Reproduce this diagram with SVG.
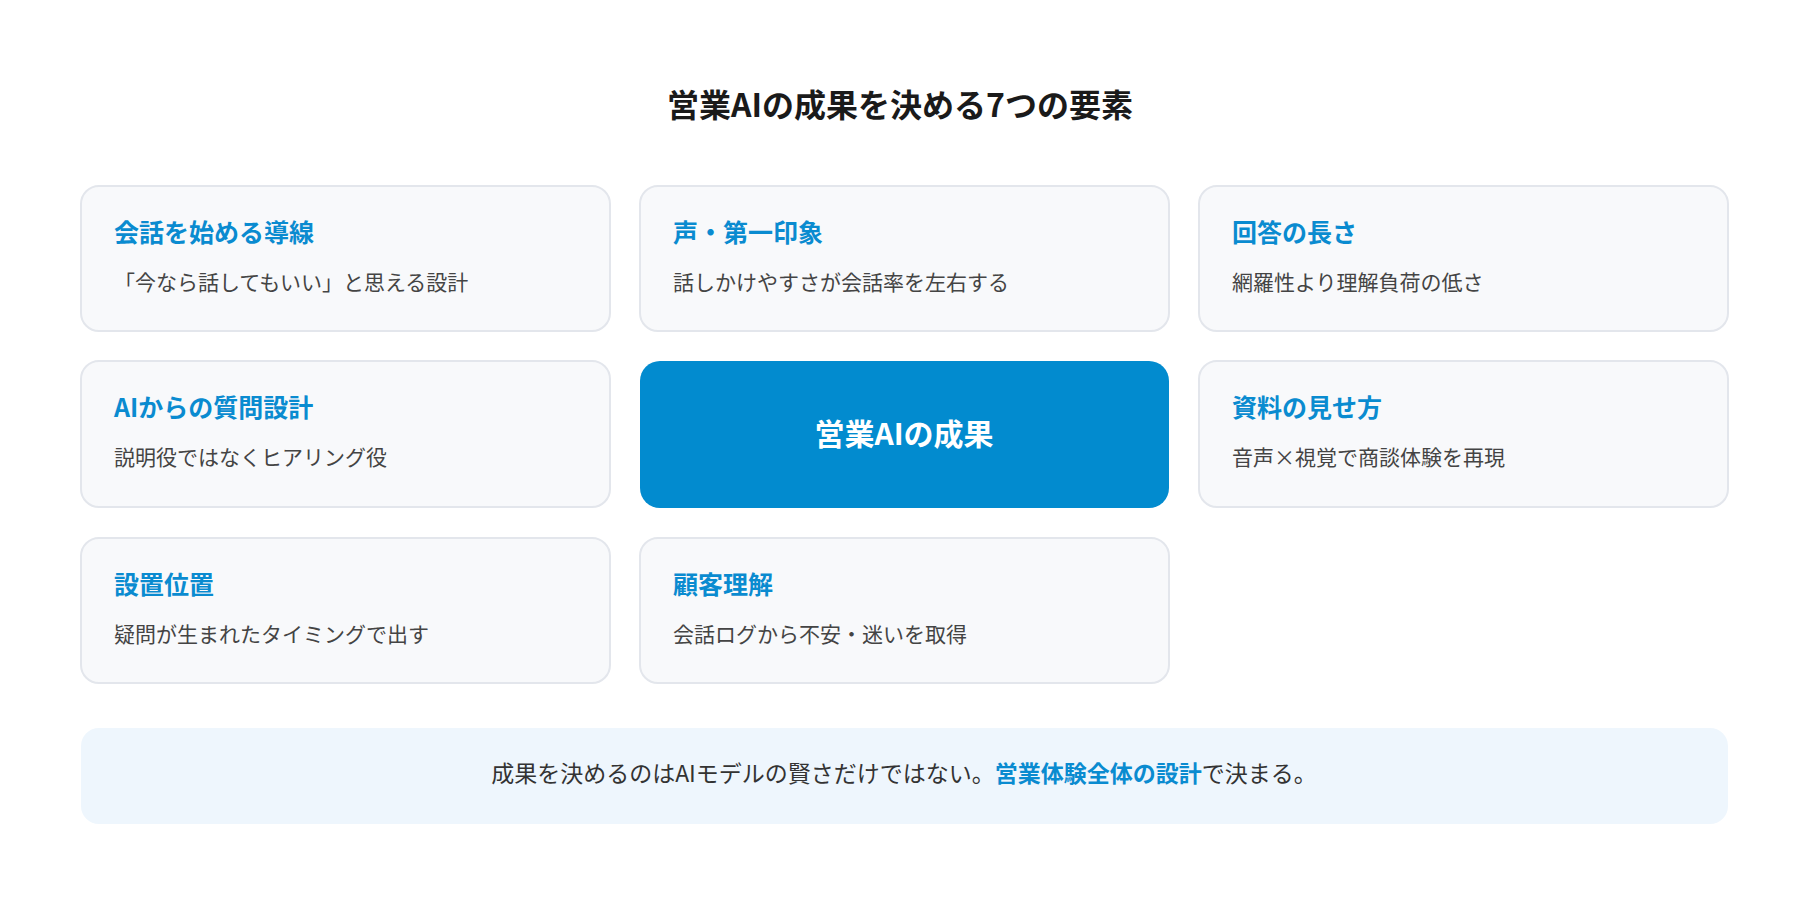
<svg xmlns="http://www.w3.org/2000/svg" width="1800" height="902" viewBox="0 0 1800 902">
<style>
text{font-family:"Noto Sans CJK JP","Noto Sans",sans-serif}
.card{fill:#f8f9fb;stroke:#e3e6ec;stroke-width:2}
.h{font-size:25px;font-weight:700;fill:#0a8bd0}
.d{font-size:21px;fill:#444}
</style>
<rect width="1800" height="902" fill="#fff"/>
<text x="900" y="117" text-anchor="middle" font-size="32" font-weight="700" fill="#1a1a1a">営業AIの成果を決める7つの要素</text>
<g id="n1"><rect class="card" x="81" y="186" width="529" height="145" rx="18"/><text class="h" x="114" y="242">会話を始める導線</text><text class="d" x="114" y="290">「今なら話してもいい」と思える設計</text></g>
<g id="n2"><rect class="card" x="640" y="186" width="529" height="145" rx="18"/><text class="h" x="673" y="242">声・第一印象</text><text class="d" x="673" y="290">話しかけやすさが会話率を左右する</text></g>
<g id="n3"><rect class="card" x="1199" y="186" width="529" height="145" rx="18"/><text class="h" x="1232" y="242">回答の長さ</text><text class="d" x="1232" y="290">網羅性より理解負荷の低さ</text></g>
<g id="n4"><rect class="card" x="81" y="361" width="529" height="146" rx="18"/><text class="h" x="114" y="417">AIからの質問設計</text><text class="d" x="114" y="465">説明役ではなくヒアリング役</text></g>
<g id="center"><rect x="640" y="361" width="529" height="147" rx="20" fill="#028bcf"/><text x="904" y="445" text-anchor="middle" font-size="30" font-weight="700" fill="#fff">営業AIの成果</text></g>
<g id="n5"><rect class="card" x="1199" y="361" width="529" height="146" rx="18"/><text class="h" x="1232" y="417">資料の見せ方</text><text class="d" x="1232" y="465">音声×視覚で商談体験を再現</text></g>
<g id="n6"><rect class="card" x="81" y="538" width="529" height="145" rx="18"/><text class="h" x="114" y="594">設置位置</text><text class="d" x="114" y="642">疑問が生まれたタイミングで出す</text></g>
<g id="n7"><rect class="card" x="640" y="538" width="529" height="145" rx="18"/><text class="h" x="673" y="594">顧客理解</text><text class="d" x="673" y="642">会話ログから不安・迷いを取得</text></g>
<g id="connectors"/>
<g id="footer"><rect x="81" y="728" width="1647" height="96" rx="18" fill="#eef6fd"/><text x="904" y="782" text-anchor="middle" font-size="23" fill="#333">成果を決めるのはAIモデルの賢さだけではない。<tspan font-weight="700" fill="#0a8bd0">営業体験全体の設計</tspan>で決まる。</text></g>
</svg>
